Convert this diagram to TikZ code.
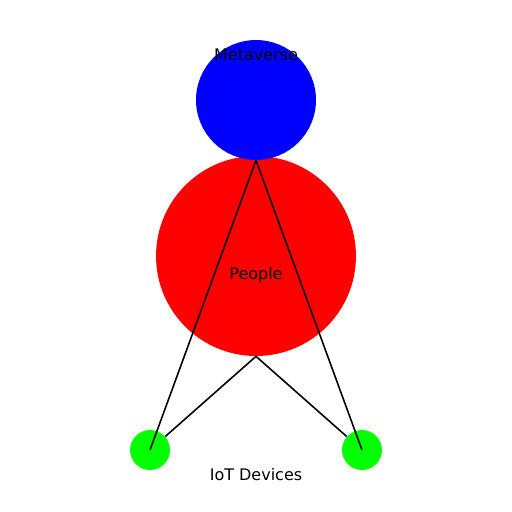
\documentclass[tikz,border=0pt]{standalone}
\usepackage{fontspec}
\setmainfont{DejaVu Sans}
\begin{document}
\begin{tikzpicture}[x=0.02cm,y=-0.02cm,
    ball/.style={circle,inner sep=0pt,draw=none},
    link/.style={black,line width=0.9pt},
    lbl/.style={font=\fontsize{9.1}{11}\selectfont,inner sep=0pt}]
    \useasboundingbox (0,0) rectangle (512,512);
    \node[ball,fill=red,minimum size=4cm] (people) at (256,256) {};
    \node[ball,fill=blue,minimum size=2.4cm] (meta) at (256,100) {};
    \node[ball,fill=green,minimum size=0.8cm] (iotL) at (150,450) {};
    \node[ball,fill=green,minimum size=0.8cm] (iotR) at (362,450) {};
    \draw[link] (people.south) -- (iotL) (people.south) -- (iotR);
    \draw[link] (meta.south) -- (iotL.center) (meta.south) -- (iotR.center);
    \node[lbl] (metaText) at (256,55) {Metaverse};
    \node[lbl] (peopleText) at (256,275) {People};
    \node[lbl] (iotText) at (256,475) {IoT Devices};
\end{tikzpicture}
\end{document}
